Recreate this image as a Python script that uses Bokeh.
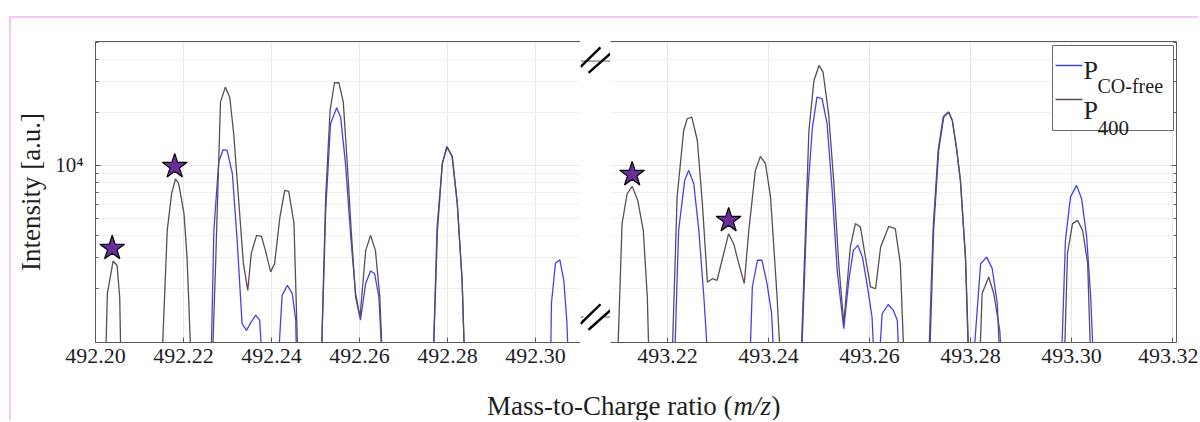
import math
from bokeh.plotting import figure
from bokeh.layouts import row, column
from bokeh.models import (Range1d, FixedTicker, PrintfTickFormatter, CustomJSTickFormatter,
                          LinearAxis, Div, Spacer, Plot, ColumnDataSource, Segment, Text)
from bokeh.core.properties import value
from bokeh.embed import file_html
from bokeh.resources import INLINE

# ---------------- data (m/z, intensity in a.u.) ----------------
left_gray_mz = [492.2000, 492.2021, 492.2027, 492.2040, 492.2049, 492.2055, 492.2059,
                492.2148, 492.2163, 492.2173, 492.2182, 492.2189, 492.2201, 492.2208, 492.2220,
                492.2263, 492.2273, 492.2284, 492.2295, 492.2305, 492.2314, 492.2326, 492.2336,
                492.2346, 492.2354, 492.2366, 492.2377, 492.2386, 492.2398, 492.2407, 492.2419,
                492.2430, 492.2439, 492.2451, 492.2462,
                492.2511, 492.2523, 492.2533, 492.2543, 492.2553, 492.2563, 492.2572, 492.2581,
                492.2591, 492.2601, 492.2614, 492.2625, 492.2636, 492.2646, 492.2655,
                492.2765, 492.2777, 492.2788, 492.2799, 492.2811, 492.2822, 492.2833, 492.2841,
                492.3102]
left_gray_int = [500, 500, 1875, 2860, 2700, 1780, 500,
                 500, 4270, 6930, 8400, 7870, 5340, 3000, 500,
                 500, 2775, 22900, 27850, 24430, 15140, 6000, 2775,
                 1950, 3160, 4000, 3950, 3290, 2480, 2775, 5080,
                 7210, 7120, 4680, 500,
                 500, 6620, 20500, 29500, 29500, 22900, 10270, 4270,
                 1785, 1375, 3290, 4000, 3290, 1785, 500,
                 500, 4270, 10240, 12700, 11150, 6080, 2220, 500,
                 500]

left_blue_mz = [492.2000, 492.2261, 492.2269, 492.2280, 492.2290, 492.2299, 492.2311, 492.2322,
                492.2333, 492.2343, 492.2354, 492.2364, 492.2373, 492.2383,
                492.2411, 492.2424, 492.2436, 492.2447, 492.2455, 492.2458,
                492.2511, 492.2523, 492.2534, 492.2548, 492.2557, 492.2568, 492.2580, 492.2591,
                492.2602, 492.2614, 492.2625, 492.2634, 492.2644, 492.2655,
                492.2765, 492.2776, 492.2788, 492.2798, 492.2810, 492.2822, 492.2833, 492.2841,
                492.3033, 492.3036, 492.3045, 492.3055, 492.3064, 492.3071, 492.3077,
                492.3102]
left_blue_int = [500, 500, 4270, 10500, 12280, 12170, 8970, 3700,
                 1265, 1155, 1290, 1410, 1320, 500,
                 500, 1825, 2080, 1870, 1320, 500,
                 500, 5500, 17260, 21290, 18800, 10270, 3920, 1870,
                 1320, 2140, 2510, 2430, 1785, 500,
                 500, 4400, 10240, 12800, 11300, 6080, 2220, 500,
                 500, 1645, 2775, 2910, 2220, 1300, 500,
                 500]

right_gray_mz = [493.2088, 493.2099, 493.2110, 493.2120, 493.2130, 493.2141, 493.2152, 493.2160, 493.2165,
                 493.2207, 493.2219, 493.2232, 493.2239, 493.2248, 493.2259, 493.2269, 493.2279,
                 493.2289, 493.2298, 493.2308, 493.2321, 493.2331, 493.2341, 493.2352, 493.2361,
                 493.2374, 493.2384, 493.2394, 493.2404, 493.2417, 493.2427,
                 493.2462, 493.2480, 493.2490, 493.2500, 493.2508, 493.2519, 493.2529, 493.2539,
                 493.2549, 493.2562, 493.2572, 493.2582, 493.2594, 493.2602, 493.2612, 493.2622,
                 493.2638, 493.2651, 493.2661, 493.2671,
                 493.2717, 493.2727, 493.2737, 493.2747, 493.2757, 493.2764, 493.2772, 493.2780,
                 493.2790, 493.2799,
                 493.2816, 493.2823, 493.2836, 493.2846, 493.2858, 493.2865,
                 493.2984, 493.2992, 493.3002, 493.3012, 493.3022, 493.3032, 493.3040,
                 493.3208]
right_gray_int = [500, 500, 4670, 6900, 7600, 6330, 4270, 1785, 500,
                  500, 6620, 15800, 18410, 18800, 13900, 6080, 2170,
                  2270, 2220, 2890, 4090, 3590, 2775, 2130, 4270,
                  9370, 11250, 10220, 6620, 1785, 500,
                  500, 15800, 30400, 36980, 33900, 19680, 8220, 2775,
                  1262, 3435, 4670, 4460, 2775, 2040, 1990, 3435,
                  4500, 4370, 2775, 500,
                  500, 4270, 12170, 18800, 20100, 18000, 12700, 8220,
                  3010, 500,
                  500, 1870, 2320, 1870, 1150, 500,
                  500, 3150, 4670, 4870, 4270, 2775, 500,
                  500]

right_blue_mz = [493.2088, 493.2212, 493.2222, 493.2234, 493.2242, 493.2252, 493.2262, 493.2272, 493.2284,
                 493.2361, 493.2368, 493.2378, 493.2387, 493.2397, 493.2406, 493.2414,
                 493.2463, 493.2477, 493.2487, 493.2496, 493.2506, 493.2516, 493.2526, 493.2536,
                 493.2549, 493.2559, 493.2568, 493.2577, 493.2586, 493.2595, 493.2605, 493.2612,
                 493.2615, 493.2625, 493.2637, 493.2647, 493.2655, 493.2661,
                 493.2715, 493.2726, 493.2736, 493.2746, 493.2756, 493.2764, 493.2772, 493.2780,
                 493.2790, 493.2798,
                 493.2801, 493.2820, 493.2832, 493.2843, 493.2853, 493.2861,
                 493.2978, 493.2988, 493.2998, 493.3010, 493.3020, 493.3030, 493.3038, 493.3046,
                 493.3208]
right_blue_int = [500, 500, 4270, 8220, 9370, 7870, 4270, 1785, 500,
                  500, 2040, 2890, 2890, 2130, 1450, 500,
                  500, 6620, 16520, 24430, 23920, 17260, 7210, 2530,
                  1180, 2220, 3290, 3510, 3010, 2130, 1375, 500,
                  500, 1435, 1620, 1500, 1320, 500,
                  500, 4400, 12300, 18900, 20100, 18000, 12700, 8220,
                  3010, 500,
                  500, 2760, 3010, 2590, 1645, 500,
                  500, 3750, 6620, 7700, 6470, 3920, 1785, 500,
                  500]

star_left_mz = [492.2038, 492.2180]
star_left_int = [3380, 9870]
star_right_mz = [493.2130, 493.2321]
star_right_int = [8890, 4870]

left_ticks = [492.20, 492.22, 492.24, 492.26, 492.28, 492.30]
right_ticks = [493.22, 493.24, 493.26, 493.28, 493.30, 493.32]
y_major_ticks = [10000]
y_minor_ticks = [2000, 3000, 4000, 5000, 6000, 7000, 8000, 9000, 20000, 30000, 40000, 50000]
legend_subscripts = ["CO-free", "400"]
x_title_parts = ["Mass-to-Charge ratio (", "m/z", ")"]

# ---------------- style ----------------
FONT = "Liberation Serif"
BLUE = "#4343ee"
GRAY = "#5c4b5a"
STAR = "#6a2d9a"
AXIS = "#5a5a5a"
GRID = "#e8e8e8"
PINK = "#f6c6f6"
TXT = "#1e1e1e"

Y0, Y1 = 985, 50600
L0, L1 = 492.20, 492.3102      # left frame: 485 px
R0, R1 = 493.20871, 493.32079  # right frame: 566 px
W2 = 566
FRAME_H = 301
PH = 354                       # panel height
TH = 48                        # title strip height
yr = Range1d(Y0, Y1)


def panel(xr, ticks, width, mbl, mbr, yloc):
    p = figure(width=width, height=PH, x_range=xr, y_range=yr, y_axis_type="log",
               y_axis_location=yloc, output_backend="svg", toolbar_location=None,
               min_border_left=mbl, min_border_right=mbr, min_border_top=23, min_border_bottom=30)
    p.outline_line_color = None
    xa = p.xaxis[0]
    xa.ticker = FixedTicker(ticks=ticks)
    xa.formatter = PrintfTickFormatter(format="%.2f")
    xa.major_label_text_font = FONT
    xa.major_label_text_font_size = "22px"
    xa.major_label_text_color = TXT
    xa.major_label_standoff = 6
    xa.major_tick_in = 5
    xa.major_tick_out = 0
    xa.minor_tick_line_color = None
    xa.axis_line_color = AXIS
    xa.major_tick_line_color = AXIS
    ya = p.yaxis[0]
    ya.ticker = FixedTicker(ticks=y_major_ticks, minor_ticks=y_minor_ticks)
    ya.axis_line_color = AXIS
    ya.major_tick_line_color = AXIS
    ya.minor_tick_line_color = AXIS
    ya.major_tick_in = 5
    ya.major_tick_out = 0
    ya.minor_tick_in = 3
    ya.minor_tick_out = 0
    p.xgrid.grid_line_color = GRID
    p.ygrid.grid_line_color = GRID
    p.ygrid.minor_grid_line_color = "#f0f0f0"
    top = LinearAxis(ticker=FixedTicker(ticks=[]), axis_line_color=AXIS,
                     major_tick_line_color=None, minor_tick_line_color=None,
                     major_label_text_font_size="10px")
    p.add_layout(top, "above")
    return p


def fy(py):
    """intensity at py pixels below the frame top"""
    a, b = math.log10(Y0), math.log10(Y1)
    return 10 ** (b - (b - a) * py / FRAME_H)


# left panel
p1 = panel(Range1d(L0, L1), left_ticks, 569, 84, 0, "left")
ya = p1.yaxis[0]
ya.formatter = CustomJSTickFormatter(code="return '10' + String.fromCharCode(8308);")
ya.major_label_text_font = FONT
ya.major_label_text_font_size = "21px"
ya.major_label_text_color = TXT
ya.major_label_standoff = 12
ya.axis_label = "Intensity [a.u.]"
ya.axis_label_text_font = FONT
ya.axis_label_text_font_size = "27px"
ya.axis_label_text_font_style = "normal"
ya.axis_label_text_color = TXT
ya.axis_label_standoff = 6

p1.line(left_blue_mz, left_blue_int, line_color=BLUE, line_width=1.3)
p1.line(left_gray_mz, left_gray_int, line_color=GRAY, line_width=1.3)
p1.scatter(star_left_mz, star_left_int, marker="star", size=26, fill_color=STAR,
           line_color="black", line_width=1.2)

# right panel (right axis is the frame edge only: ticks without labels)
p2 = panel(Range1d(R0, R1), right_ticks, 588, 0, 22, "right")
ya2 = p2.yaxis[0]
ya2.formatter = CustomJSTickFormatter(code="return '';")
ya2.major_label_text_font_size = "10px"
ya2.major_label_standoff = 0
p2.line(right_blue_mz, right_blue_int, line_color=BLUE, line_width=1.3)
p2.line(right_gray_mz, right_gray_int, line_color=GRAY, line_width=1.3)
p2.scatter(star_right_mz, star_right_int, marker="star", size=26, fill_color=STAR,
           line_color="black", line_width=1.2)


def fx2(px):
    return R0 + (R1 - R0) * px / W2


# legend drawn in the right panel (allows subscripts)
p2.quad(left=[fx2(442)], right=[fx2(563)], top=[fy(4)], bottom=[fy(89)],
        fill_color="white", line_color="#6a6a6a", line_width=1)
p2.line([fx2(445), fx2(472)], [fy(24), fy(24)], line_color=BLUE, line_width=1.3)
p2.line([fx2(445), fx2(472)], [fy(58), fy(58)], line_color=GRAY, line_width=1.3)
p2.text(x=[fx2(473), fx2(473)], y=[fy(29), fy(69)], text=["P", "P"], text_font=value(FONT),
        text_font_size="26px", text_baseline="alphabetic", text_align="left", text_color=TXT)
p2.text(x=[fx2(487)], y=[fy(44)], text=[legend_subscripts[0]], text_font=value(FONT),
        text_font_size="20px", text_baseline="alphabetic", text_align="left", text_color=TXT)
p2.text(x=[fx2(487)], y=[fy(86)], text=[legend_subscripts[1]], text_font=value(FONT),
        text_font_size="21px", text_baseline="alphabetic", text_align="left", text_color=TXT)

# narrow strip between the panels holding the axis-break marks (pixel coordinates, y up)
ytop, ybot = PH - 23, PH - 23 - FRAME_H
pb = Plot(width=30, height=PH, x_range=Range1d(0, 30), y_range=Range1d(0, PH),
          min_border=0, min_border_left=0, min_border_right=0, min_border_top=0, min_border_bottom=0,
          toolbar_location=None, output_backend="svg", outline_line_color=None)
axis_segs = ColumnDataSource(dict(x0=[0, 0, 20], y0=[ytop, ybot, ybot],
                                  x1=[30, 3, 30], y1=[ytop, ybot, ybot]))
pb.add_glyph(axis_segs, Segment(x0="x0", y0="y0", x1="x1", y1="y1", line_color=AXIS, line_width=1))
break_segs = ColumnDataSource(dict(x0=[0, 8, 0, 8],
                                   y0=[ytop - 7, ytop - 14, ybot - 8, ybot - 15],
                                   x1=[20, 30, 20, 30],
                                   y1=[ytop + 16, ytop + 9, ybot + 15, ybot + 8]))
pb.add_glyph(break_segs, Segment(x0="x0", y0="y0", x1="x1", y1="y1", line_color="black", line_width=2.4))

# x-axis title strip spanning all panels
p3 = Plot(width=1187, height=TH, x_range=Range1d(0, 1187), y_range=Range1d(0, TH),
          min_border=0, min_border_left=0, min_border_right=0, min_border_top=0, min_border_bottom=0,
          toolbar_location=None, output_backend="svg", outline_line_color=None)
p3.add_glyph(ColumnDataSource(dict(x=[721], y=[15], t=[x_title_parts[0]])),
             Text(x="x", y="y", text="t", text_font=value(FONT), text_font_size="27px",
                  text_align="right", text_baseline="alphabetic", text_color=TXT))
p3.add_glyph(ColumnDataSource(dict(x=[722], y=[15], t=[x_title_parts[1]])),
             Text(x="x", y="y", text="t", text_font=value(FONT), text_font_size="27px",
                  text_font_style="italic", text_align="left", text_baseline="alphabetic",
                  text_color=TXT))
p3.add_glyph(ColumnDataSource(dict(x=[760], y=[15], t=[x_title_parts[2]])),
             Text(x="x", y="y", text="t", text_font=value(FONT), text_font_size="27px",
                  text_align="left", text_baseline="alphabetic", text_color=TXT))

# light pink frame lines around the figure area
pink_top = row(Spacer(width=9, height=2, margin=0),
               Div(text="", width=1189, height=2, margin=0, styles={"background-color": PINK}))
pink_left = Div(text="", width=2, height=PH + TH, margin=0, styles={"background-color": PINK})

layout = column(Spacer(width=10, height=16, margin=0), pink_top,
                row(Spacer(width=9, height=PH + TH, margin=0), pink_left,
                    column(row(p1, pb, p2), p3)))
open("out.html", "w").write(file_html(layout, INLINE))
